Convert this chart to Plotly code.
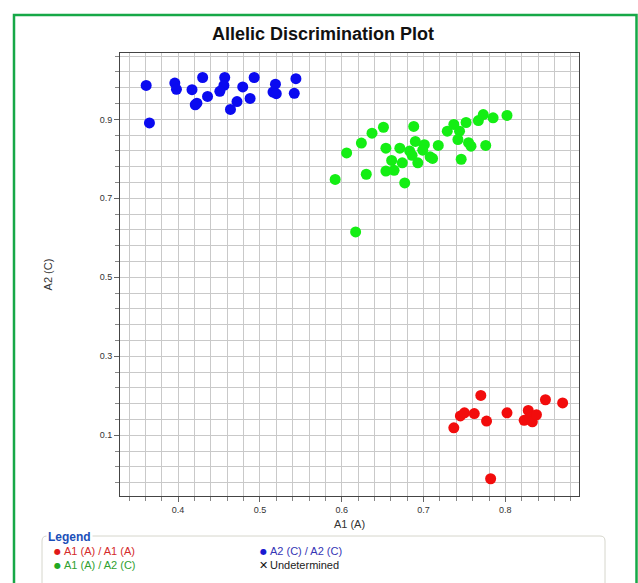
import plotly.graph_objects as go

# ---- data ----
blue_x = [0.361, 0.365, 0.396, 0.398, 0.417, 0.430, 0.436, 0.421, 0.423, 0.457, 0.456,
          0.451, 0.488, 0.479, 0.472, 0.464, 0.493, 0.519, 0.516, 0.520, 0.544, 0.542]
blue_y = [0.986, 0.891, 0.992, 0.976, 0.975, 1.006, 0.958, 0.937, 0.941, 1.006, 0.986,
          0.971, 0.953, 0.982, 0.945, 0.925, 1.006, 0.989, 0.969, 0.965, 1.003, 0.966]

green_x = [0.592, 0.606, 0.617, 0.624, 0.630, 0.637, 0.651, 0.654, 0.654, 0.664, 0.661,
           0.671, 0.674, 0.677, 0.683, 0.686, 0.688, 0.690, 0.693, 0.701, 0.699, 0.708,
           0.711, 0.718, 0.729, 0.737, 0.744, 0.742, 0.746, 0.752, 0.755, 0.758, 0.767,
           0.773, 0.776, 0.785, 0.802]
green_y = [0.748, 0.815, 0.615, 0.840, 0.761, 0.865, 0.880, 0.827, 0.769, 0.771, 0.796,
           0.827, 0.790, 0.739, 0.820, 0.809, 0.882, 0.844, 0.790, 0.836, 0.822, 0.805,
           0.801, 0.834, 0.870, 0.887, 0.870, 0.849, 0.799, 0.892, 0.841, 0.832, 0.897,
           0.912, 0.834, 0.904, 0.910]

red_x = [0.737, 0.745, 0.750, 0.762, 0.770, 0.777, 0.782, 0.802, 0.823, 0.828, 0.830,
         0.833, 0.838, 0.849, 0.870]
red_y = [0.119, 0.149, 0.157, 0.155, 0.201, 0.136, -0.010, 0.157, 0.138, 0.163, 0.145,
         0.134, 0.152, 0.190, 0.182]

series_names = ["A1 (A) / A1 (A)", "A2 (C) / A2 (C)", "A1 (A) / A2 (C)", "Undetermined"]
title_text = "Allelic Discrimination Plot"
x_title = "A1 (A)"
y_title = "A2 (C)"

# ---- layout geometry (pixels) ----
W, H = 638, 583
PL, PR, PT, PB = 120, 579, 53, 496


def px(x):
    return (x - PL) / (PR - PL)


def py(y):
    return (PB - y) / (PB - PT)


FONT = "Liberation Sans, Arial, sans-serif"

fig = go.Figure()
mk = dict(size=11, line=dict(width=0))
fig.add_trace(go.Scatter(x=red_x, y=red_y, mode="markers", name=series_names[0],
                         marker=dict(color="#f20c0c", **mk)))
fig.add_trace(go.Scatter(x=blue_x, y=blue_y, mode="markers", name=series_names[1],
                         marker=dict(color="#0a0af0", **mk)))
fig.add_trace(go.Scatter(x=green_x, y=green_y, mode="markers", name=series_names[2],
                         marker=dict(color="#14ee14", **mk)))

grid_c = "#c9c9c9"
fig.update_xaxes(
    range=[0.329, 0.890], tick0=0.4, dtick=0.1, showgrid=True, gridcolor=grid_c, gridwidth=1,
    ticks="outside", ticklen=5, tickcolor="#666", showline=True, linecolor="#444",
    linewidth=1, mirror=True, zeroline=False,
    tickfont=dict(family=FONT, size=9, color="#333"),
    title=dict(text=x_title, font=dict(family=FONT, size=11, color="#333"), standoff=6),
    minor=dict(dtick=0.02, tick0=0.4, showgrid=True, gridcolor=grid_c, gridwidth=1,
               ticks="outside", ticklen=4, tickcolor="#888"),
)
fig.update_yaxes(
    range=[-0.0537, 1.068], tick0=0.1, dtick=0.2, showgrid=True, gridcolor=grid_c, gridwidth=1,
    ticks="outside", ticklen=5, tickcolor="#666", showline=True, linecolor="#444",
    linewidth=1, mirror=True, zeroline=False,
    tickfont=dict(family=FONT, size=9, color="#333"),
    title=dict(text=y_title, font=dict(family=FONT, size=11, color="#333"), standoff=44),
    minor=dict(dtick=0.04, tick0=0.1, showgrid=True, gridcolor=grid_c, gridwidth=1,
               ticks="outside", ticklen=4, tickcolor="#888"),
)

shapes = [
    # outer green frame
    dict(type="rect", xref="paper", yref="paper", x0=px(14), x1=px(636.5), y0=py(610), y1=py(15),
         line=dict(color="#16a847", width=2.5), fillcolor="rgba(0,0,0,0)", layer="below"),
    # legend box (rounded)
    dict(type="path", xref="paper", yref="paper",
         path=(f"M {px(42)} {py(600)} L {px(42)} {py(541)} Q {px(42)} {py(536)} {px(47)} {py(536)} "
               f"L {px(600)} {py(536)} Q {px(605)} {py(536)} {px(605)} {py(541)} L {px(605)} {py(600)}"),
         line=dict(color="#d6d6cc", width=1)),
]

ann = [
    dict(x=px(46), y=py(537), text="<b>Legend</b>", xanchor="left", yanchor="middle",
         font=dict(family=FONT, size=12, color="#1b4fb8"), bgcolor="white", borderpad=1),
    dict(x=px(52), y=py(551), text="●", xanchor="left", yanchor="middle",
         font=dict(family="DejaVu Sans", size=8, color="#e01818")),
    dict(x=px(62), y=py(551), text=series_names[0], xanchor="left", yanchor="middle",
         font=dict(family=FONT, size=11, color="#d42a2a")),
    dict(x=px(258), y=py(551), text="●", xanchor="left", yanchor="middle",
         font=dict(family="DejaVu Sans", size=8, color="#1a1ad0")),
    dict(x=px(268), y=py(551), text=series_names[1], xanchor="left", yanchor="middle",
         font=dict(family=FONT, size=11, color="#3535b5")),
    dict(x=px(52), y=py(565), text="●", xanchor="left", yanchor="middle",
         font=dict(family="DejaVu Sans", size=8, color="#22a822")),
    dict(x=px(62), y=py(565), text=series_names[2], xanchor="left", yanchor="middle",
         font=dict(family=FONT, size=11, color="#30a030")),
    dict(x=px(257), y=py(565), text="✕", xanchor="left", yanchor="middle",
         font=dict(family="DejaVu Sans", size=11, color="#111")),
    dict(x=px(268), y=py(565), text=series_names[3], xanchor="left", yanchor="middle",
         font=dict(family=FONT, size=11, color="#222")),
]
for a in ann:
    a.update(xref="paper", yref="paper", showarrow=False)

fig.update_layout(
    width=W, height=H,
    margin=dict(l=PL, r=W - PR, t=PT, b=H - PB),
    paper_bgcolor="white", plot_bgcolor="white",
    showlegend=False,
    title=dict(text=f"<b>{title_text}</b>", x=323 / W, xanchor="center",
               y=1 - 34 / H, yanchor="middle",
               font=dict(family=FONT, size=18, color="#111")),
    shapes=shapes,
    annotations=ann,
)

fig.write_html("out.html")
